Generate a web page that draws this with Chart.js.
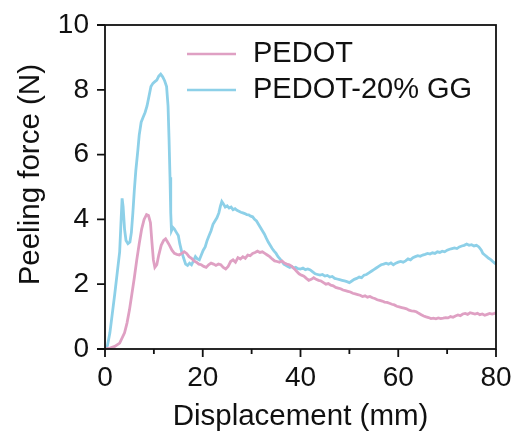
<!DOCTYPE html>
<html>
<head>
<meta charset="utf-8">
<script src="https://cdn.jsdelivr.net/npm/chart.js@4"></script>
<style>
  body { margin: 0; background: #fff; }
  canvas { display: block; }
</style>
</head>
<body>
<canvas id="peelChart" width="513" height="439"></canvas>
<script>
// series names
const seriesNames = ['PEDOT', 'PEDOT-20% GG'];

// PEDOT: displacement (mm) and peeling force (N)
const pedotX = [0, 1, 2, 3, 4, 4.5, 5, 5.5, 6, 6.5, 7, 7.5, 8, 8.5, 8.9, 9.3, 9.6, 9.9, 10.2, 10.6,
  11, 11.5, 12, 12.4, 12.8, 13.2, 13.7, 14.2, 14.7, 15.2, 15.7, 16.2, 16.7, 17.2, 17.7, 18.2, 18.7, 19.2, 19.7, 20.2,
  20.7, 21.2, 21.7, 22.2, 22.7, 23.2, 23.7, 24.2, 24.7, 25.2, 25.7, 26.2, 26.7, 27.2, 27.7, 28.2, 28.7, 29.2, 29.7, 30.2,
  30.7, 31.2, 31.7, 32.2, 32.7, 33.2, 33.7, 34.2, 34.7, 35.2, 35.7, 36.2, 36.7, 37.2, 37.7, 38.2, 38.7, 39.2, 39.7, 40.2,
  40.7, 41.2, 41.7, 42.2, 42.7, 43.2, 43.7, 44.2, 44.7, 45.2, 45.7, 46.2, 46.7, 47.2, 47.7, 48.2, 48.7, 49.2, 49.7, 50.2,
  50.7, 51.2, 51.7, 52.2, 52.7, 53.2, 53.7, 54.2, 54.7, 55.2, 55.7, 56.2, 56.7, 57.2, 57.7, 58.2, 58.7, 59.2, 59.7, 60.2,
  60.7, 61.2, 61.7, 62.2, 62.7, 63.2, 63.7, 64.2, 64.7, 65.2, 65.7, 66.2, 66.7, 67.2, 67.7, 68.2, 68.7, 69.2, 69.7, 70.2,
  70.7, 71.2, 71.7, 72.2, 72.7, 73.2, 73.7, 74.2, 74.7, 75.2, 75.7, 76.2, 76.7, 77.2, 77.7, 78.2, 78.7, 79.2, 79.7, 80];
const pedotY = [0, 0.03, 0.08, 0.18, 0.5, 0.8, 1.2, 1.7, 2.2, 2.75, 3.25, 3.7, 4.0, 4.15, 4.12, 3.9, 3.3, 2.75, 2.52, 2.6,
  2.9, 3.2, 3.35, 3.4, 3.3, 3.2, 3.05, 2.95, 2.92, 2.9, 2.95, 3.0, 2.95, 2.85, 2.8, 2.72, 2.68, 2.62, 2.6, 2.55,
  2.52, 2.6, 2.65, 2.62, 2.58, 2.62, 2.6, 2.52, 2.47, 2.55, 2.7, 2.75, 2.68, 2.82, 2.78, 2.85, 2.8, 2.9, 2.88, 2.95,
  2.98, 3.02, 2.98, 3.0, 2.95, 2.9, 2.85, 2.78, 2.72, 2.7, 2.68, 2.72, 2.65, 2.62, 2.6, 2.55, 2.48, 2.4, 2.32, 2.28,
  2.25, 2.18, 2.12, 2.15, 2.2, 2.15, 2.12, 2.1, 2.05, 2.0, 2.02, 1.97, 1.95, 1.9, 1.88, 1.86, 1.82, 1.8, 1.78, 1.76,
  1.72, 1.7, 1.68, 1.66, 1.62, 1.64, 1.6, 1.62, 1.58, 1.56, 1.52, 1.5, 1.48, 1.45, 1.44, 1.41, 1.38, 1.36, 1.32, 1.3,
  1.28, 1.26, 1.24, 1.2, 1.18, 1.17, 1.15, 1.1, 1.06, 1.02, 0.99, 0.97, 0.94, 0.95, 0.93, 0.96, 0.94, 0.95, 0.97, 0.96,
  1.0, 0.98, 1.02, 1.05, 1.03, 1.08, 1.1, 1.07, 1.12, 1.1, 1.08, 1.1, 1.06, 1.08, 1.04, 1.07, 1.1, 1.08, 1.1, 1.12];

// PEDOT-20% GG
const ggX = [0, 0.5, 1, 1.5, 2, 2.5, 3, 3.3, 3.5, 3.7, 4.0, 4.3, 4.7, 5.1, 5.4, 5.7, 6.0, 6.3, 6.7, 7.0,
  7.4, 7.8, 8.2, 8.6, 9.0, 9.4, 9.8, 10.2, 10.6, 11.0, 11.4, 11.8, 12.2, 12.6, 12.9, 13.1, 13.3, 13.45, 13.6, 13.9,
  14.2, 14.6, 15.0, 15.3, 15.7, 16.1, 16.5, 16.9, 17.3, 17.7, 18.1, 18.5, 18.9, 19.3, 19.7, 20.1, 20.5, 20.9, 21.3, 21.7,
  22.1, 22.5, 22.9, 23.3, 23.6, 23.9, 24.2, 24.6, 25.0, 25.4, 25.8, 26.2, 26.6, 27.0, 27.4, 27.8, 28.2, 28.6, 29.0, 29.4,
  29.8, 30.2, 30.6, 31.0, 31.4, 31.8, 32.2, 32.6, 33.0, 33.4, 33.8, 34.2, 34.6, 35.0, 35.4, 35.8, 36.2, 36.6, 37.0, 37.4,
  37.8, 38.2, 38.6, 39.0, 39.5, 40, 40.5, 41, 41.5, 42, 42.5, 43, 43.5, 44, 44.5, 45, 45.5, 46, 46.5, 47,
  47.5, 48, 48.5, 49, 49.5, 50, 50.5, 51, 51.5, 52, 52.5, 53, 53.5, 54, 54.5, 55, 55.5, 56, 56.5, 57,
  57.5, 58, 58.5, 59, 59.5, 60, 60.5, 61, 61.5, 62, 62.5, 63, 63.5, 64, 64.5, 65, 65.5, 66, 66.5, 67,
  67.5, 68, 68.5, 69, 69.5, 70, 70.5, 71, 71.5, 72, 72.5, 73, 73.5, 74, 74.5, 75, 75.5, 76, 76.5, 77,
  77.3, 77.7, 78.1, 78.5, 79, 79.5, 80];
const ggY = [0, 0.1, 0.5, 1.1, 1.7, 2.35, 3.0, 4.0, 4.65, 4.4, 3.7, 3.35, 3.25, 3.3, 3.6, 4.2, 4.9, 5.5, 6.1, 6.6,
  7.0, 7.15, 7.3, 7.5, 7.8, 8.1, 8.2, 8.25, 8.3, 8.42, 8.48, 8.4, 8.28, 8.1, 7.5, 6.5, 5.3, 4.2, 3.65, 3.75,
  3.7, 3.6, 3.5, 3.25, 3.0, 2.8, 2.62, 2.58, 2.65, 2.6, 2.72, 2.85, 2.78, 2.75, 2.9, 3.05, 3.15, 3.35, 3.5, 3.65,
  3.85, 3.95, 4.05, 4.2, 4.4, 4.55, 4.48, 4.38, 4.42, 4.35, 4.38, 4.3, 4.33, 4.28, 4.25, 4.22, 4.2, 4.18, 4.15, 4.14,
  4.1, 4.08, 4.0, 3.95, 3.85, 3.75, 3.65, 3.55, 3.42, 3.3, 3.2, 3.1, 3.02, 2.95, 2.85, 2.78, 2.7, 2.62, 2.58, 2.55,
  2.52, 2.55, 2.5, 2.52, 2.48, 2.47, 2.5, 2.45, 2.47, 2.44, 2.38, 2.32, 2.3, 2.28, 2.3, 2.25, 2.27, 2.22, 2.24, 2.18,
  2.16, 2.14, 2.12, 2.1, 2.08, 2.05, 2.1, 2.15, 2.18, 2.22, 2.2, 2.28, 2.3, 2.35, 2.4, 2.45, 2.5, 2.55, 2.6, 2.62,
  2.65, 2.62, 2.66, 2.6, 2.65, 2.68, 2.7, 2.68, 2.72, 2.78, 2.75, 2.82, 2.85, 2.88, 2.86, 2.9, 2.92, 2.95, 2.93, 2.97,
  2.95, 3.0, 2.98, 3.02, 3.0, 3.05, 3.08, 3.1, 3.12, 3.1, 3.15, 3.18, 3.2, 3.24, 3.2, 3.22, 3.18, 3.2, 3.15, 3.05,
  2.95, 2.9, 2.85, 2.8, 2.75, 2.68, 2.62];

// axis ranges and labels
const xRange = [0, 80];
const yRange = [0, 10];
const xTitle = 'Displacement (mm)';
const yTitle = 'Peeling force (N)';

const colors = ['#DFA0C3', '#8DD0E8'];
const FONT = "'Liberation Sans', Arial, sans-serif";

const toPoints = (xs, ys) => xs.map((x, i) => ({ x: x, y: ys[i] }));

// outward major/minor ticks + closed frame
const frameTicks = {
  id: 'frameTicks',
  afterDraw(chart) {
    const { ctx, chartArea: a, scales } = chart;
    ctx.save();
    ctx.strokeStyle = '#111';
    ctx.lineWidth = 1.8;
    ctx.strokeRect(a.left, a.top, a.right - a.left, a.bottom - a.top);
    ctx.beginPath();
    scales.x.ticks.forEach(t => {
      const px = scales.x.getPixelForValue(t.value);
      const len = t.value % 20 === 0 ? 8 : 5;
      ctx.moveTo(px, a.bottom);
      ctx.lineTo(px, a.bottom + len);
    });
    scales.y.ticks.forEach(t => {
      const py = scales.y.getPixelForValue(t.value);
      const len = t.value % 2 === 0 ? 8 : 5;
      ctx.moveTo(a.left, py);
      ctx.lineTo(a.left - len, py);
    });
    ctx.stroke();
    ctx.restore();
  }
};

// legend in the upper right of the plot
const lineLegend = {
  id: 'lineLegend',
  afterDatasetsDraw(chart) {
    const { ctx } = chart;
    const rows = [54, 90];
    ctx.save();
    ctx.font = '29px ' + FONT;
    ctx.textBaseline = 'middle';
    ctx.textAlign = 'left';
    chart.data.datasets.forEach((ds, i) => {
      ctx.strokeStyle = ds.borderColor;
      ctx.lineWidth = 2.4;
      ctx.beginPath();
      ctx.moveTo(187, rows[i]);
      ctx.lineTo(236, rows[i]);
      ctx.stroke();
      ctx.fillStyle = '#111';
      ctx.fillText(ds.label, 253, rows[i]);
    });
    ctx.restore();
  }
};

new Chart(document.getElementById('peelChart'), {
  type: 'line',
  data: {
    datasets: [
      { label: seriesNames[0], data: toPoints(pedotX, pedotY), borderColor: colors[0] },
      { label: seriesNames[1], data: toPoints(ggX, ggY), borderColor: colors[1] }
    ]
  },
  options: {
    responsive: false,
    animation: false,
    devicePixelRatio: 1,
    layout: { padding: { top: 25, right: 17, left: 0, bottom: 0 } },
    elements: {
      line: { borderWidth: 2.8, tension: 0 },
      point: { radius: 0 }
    },
    plugins: { legend: { display: false }, tooltip: { enabled: false } },
    scales: {
      x: {
        type: 'linear',
        min: xRange[0], max: xRange[1],
        grid: { drawOnChartArea: false, drawTicks: false },
        border: { display: false },
        ticks: {
          stepSize: 10,
          padding: 12,
          color: '#111',
          font: { family: FONT, size: 28 },
          maxRotation: 0,
          callback: v => (v % 20 === 0 ? v : '')
        },
        title: {
          display: true, text: xTitle, color: '#111',
          font: { family: FONT, size: 29.5 },
          padding: { top: 0, bottom: 4 }
        },
        afterFit: s => { s.height = 90; s.paddingLeft = 0; s.paddingRight = 0; }
      },
      y: {
        min: yRange[0], max: yRange[1],
        grid: { drawOnChartArea: false, drawTicks: false },
        border: { display: false },
        ticks: {
          stepSize: 1,
          padding: 16,
          color: '#111',
          font: { family: FONT, size: 28 },
          callback: v => (v % 2 === 0 ? v : '')
        },
        title: {
          display: true, text: '   ' + yTitle, color: '#111',
          font: { family: FONT, size: 29.5 },
          padding: { top: 13, bottom: 0 }
        },
        afterFit: s => { s.width = 105; s.paddingTop = 0; s.paddingBottom = 0; }
      }
    }
  },
  plugins: [frameTicks, lineLegend]
});
</script>
</body>
</html>
